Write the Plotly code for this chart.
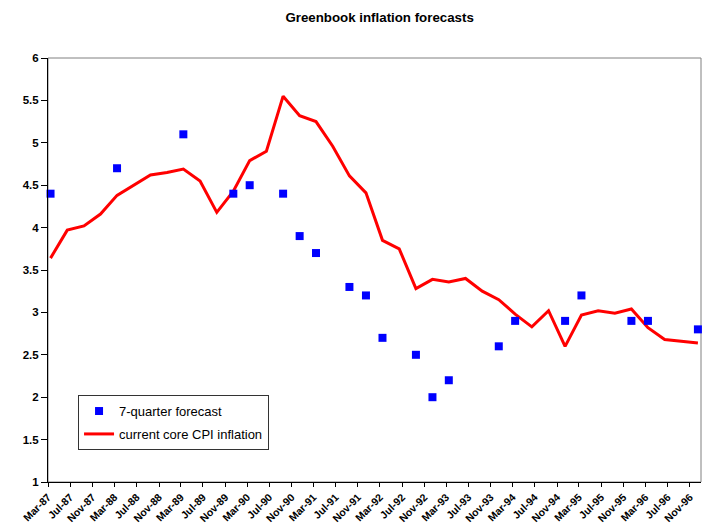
import pandas as pd
import plotly.graph_objects as go

# quarterly observations, Mar-87 .. Dec-96 (plotted mid-month)
quarters = pd.date_range("1987-03-01", periods=40, freq="3MS") + pd.Timedelta(days=14)

core_cpi = [3.64, 3.97, 4.02, 4.16, 4.38, 4.50, 4.62, 4.65, 4.69, 4.55,
            4.18, 4.43, 4.79, 4.90, 5.55, 5.32, 5.25, 4.96, 4.61, 4.41,
            3.85, 3.75, 3.28, 3.39, 3.36, 3.40, 3.25, 3.15, 2.98, 2.83,
            3.02, 2.60, 2.97, 3.02, 2.99, 3.04, 2.82, 2.68, 2.66, 2.64]

forecast = [4.4, None, None, None, 4.7, None, None, None, 5.1, None,
            None, 4.4, 4.5, None, 4.4, 3.9, 3.7, None, 3.3, 3.2,
            2.7, None, 2.5, 2.0, 2.2, None, None, 2.6, 2.9, None,
            None, 2.9, 3.2, None, None, 2.9, 2.9, None, None, 2.8]

font = "Liberation Sans, Arial, sans-serif"

fig = go.Figure()
fig.add_trace(go.Scatter(x=quarters, y=core_cpi, mode="lines",
                         name="current core CPI inflation",
                         line=dict(color="#FF0000", width=3),
                         legendgroup="b", legendrank=2))
fig.add_trace(go.Scatter(x=quarters, y=forecast, mode="markers",
                         name="7-quarter forecast", cliponaxis=False,
                         marker=dict(symbol="square", size=8, color="#0000FF"),
                         legendgroup="a", legendrank=1))

fig.update_layout(
    width=703, height=531,
    margin=dict(l=48, r=2, t=58, b=49),
    paper_bgcolor="white", plot_bgcolor="white",
    font=dict(family=font, color="black"),
    title=dict(text="Greenbook inflation forecasts", x=0.54, y=0.968,
               xanchor="center", yanchor="middle", automargin=False,
               font=dict(size=13.3, weight="bold")),
    legend=dict(x=0.046, y=0.205, xanchor="left", yanchor="top",
                bgcolor="white", bordercolor="#333333", borderwidth=1,
                font=dict(size=13), tracegroupgap=3,
                traceorder="grouped"),
    shapes=[dict(type="rect", xref="paper", yref="paper", x0=0, y0=0, x1=1, y1=1,
                 line=dict(color="#808080", width=1), layer="below")],
)

fig.update_xaxes(range=["1987-03-01", "1997-01-01"], tick0="1987-03-01", dtick="M4",
                 tickformat="%b-%y", tickangle=-45, showgrid=False, zeroline=False,
                 showline=True, linecolor="black", linewidth=1, automargin=False,
                 ticks="outside", ticklen=4, tickcolor="black",
                 tickfont=dict(size=10.5, weight="bold"))
fig.update_yaxes(range=[1, 6], dtick=0.5, showgrid=False, zeroline=False,
                 showline=True, linecolor="black", linewidth=1, automargin=False,
                 ticks="outside", ticklen=6, tickcolor="black",
                 tickfont=dict(size=11.5, weight="bold"))

# drop the default 8px page margin so the figure fills the window
fig.write_html("out.html", config={"displayModeBar": False},
               post_script="document.body.style.margin='0';document.body.style.overflow='hidden';")
